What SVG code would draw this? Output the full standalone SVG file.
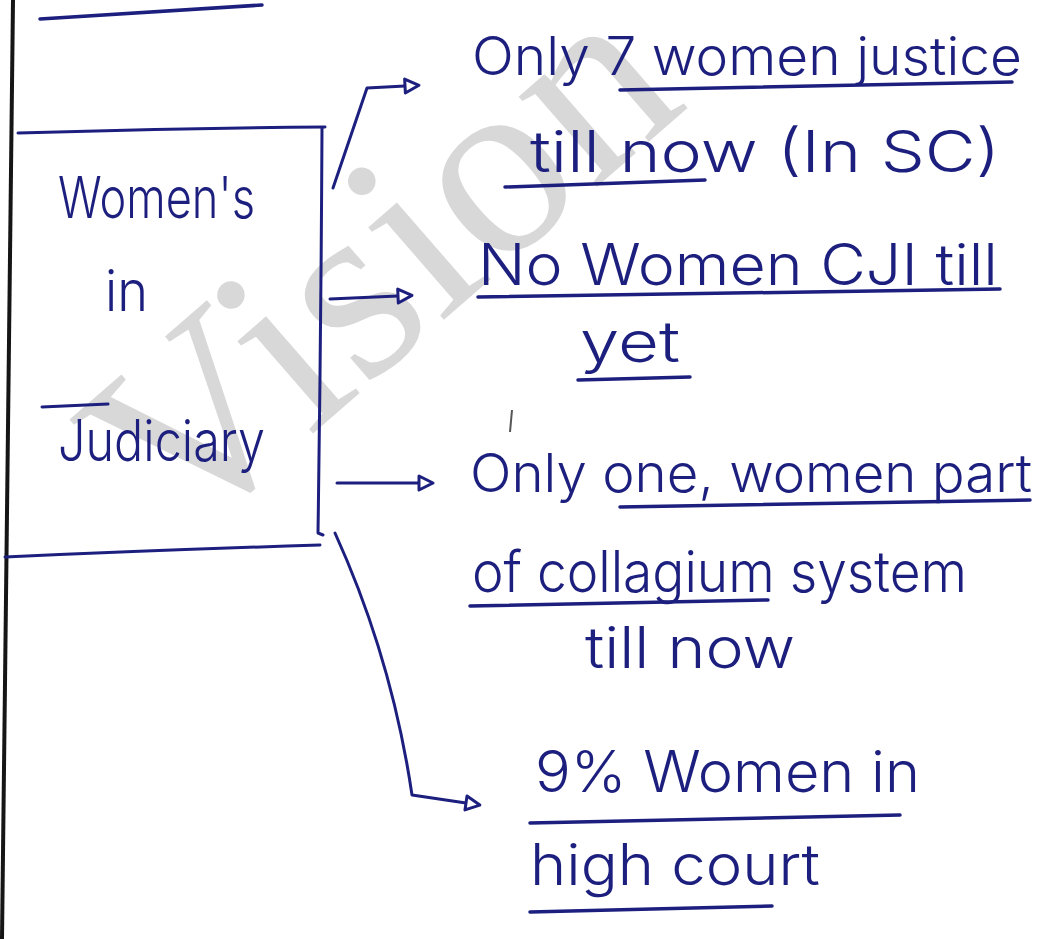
<svg xmlns="http://www.w3.org/2000/svg" width="1043" height="939" viewBox="0 0 1043 939">
  <style>
    .ink { fill: none; stroke: #1c1f7e; stroke-width: 3; stroke-linecap: round; stroke-linejoin: round; }
    .ul { fill: none; stroke: #1c1f7e; stroke-width: 3.5; stroke-linecap: round; }
    .hand { font-family: Inter, "Liberation Sans", Arial, sans-serif; font-weight: 300; font-size: 57px; fill: #1c1f7e; }
    .long { font-size: 53px; }
    .mark { font-family: "Liberation Serif", "Times New Roman", serif; font-size: 260px; fill: #d8d8d8; }
  </style>
  <defs>
    <marker id="head" markerUnits="userSpaceOnUse" markerWidth="20" markerHeight="20" viewBox="-2 -10 20 20" refX="0" refY="0" orient="auto">
      <path d="M0,-7 L14,0 L0,7 Z" fill="#ffffff" stroke="#1c1f7e" stroke-width="3" stroke-linejoin="round"/>
    </marker>
  </defs>

  <rect width="1043" height="939" fill="#ffffff"/>

  <!-- background watermark -->
  <text class="mark" transform="translate(179,550) rotate(-41)">Vision</text>

  <!-- page margin -->
  <path d="M13,0 L2,939" fill="none" stroke="#151515" stroke-width="4"/>

  <!-- heading underline at the top edge -->
  <path class="ul" d="M40,19 Q150,12 262,5"/>

  <!-- central box -->
  <g id="women-in-judiciary">
    <path class="ink" d="M18,133 Q170,128 325,127"/>
    <path class="ink" d="M322,128 Q321,330 318,533 L323,535"/>
    <path class="ink" d="M5,557 Q160,550 320,545"/>
    <path class="ink" d="M42,407 L108,404"/>
    <text class="hand" x="58" y="218" textLength="197" lengthAdjust="spacingAndGlyphs">Women's</text>
    <text class="hand" x="105" y="311" textLength="43" lengthAdjust="spacingAndGlyphs">in</text>
    <text class="hand" x="58" y="461" textLength="207" lengthAdjust="spacingAndGlyphs">Judiciary</text>
  </g>

  <!-- connectors -->
  <g id="connectors">
    <path class="ink" d="M333,188 L367,88 L405,86" marker-end="url(#head)"/>
    <path class="ink" d="M330,299 L398,296" marker-end="url(#head)"/>
    <path class="ink" d="M337,483 L419,483" marker-end="url(#head)"/>
    <path class="ink" d="M335,533 C370,610 398,700 412,795 L466,803" marker-end="url(#head)"/>
  </g>

  <g id="note-supreme-court">
    <text class="hand long" x="472" y="75" textLength="550" lengthAdjust="spacingAndGlyphs">Only 7 women justice</text>
    <path class="ul" d="M620,90 L1012,82"/>
    <text class="hand" x="530" y="172" textLength="470" lengthAdjust="spacingAndGlyphs">till now (In SC)</text>
    <path class="ul" d="M505,187 L705,180"/>
  </g>

  <g id="note-cji">
    <text class="hand" x="478" y="285" textLength="520" lengthAdjust="spacingAndGlyphs">No Women CJI till</text>
    <path class="ul" d="M478,297 L1000,289"/>
    <text class="hand" x="580" y="362" textLength="100" lengthAdjust="spacingAndGlyphs">yet</text>
    <path class="ul" d="M578,380 L690,377"/>
    <path d="M512,410 L510,432" fill="none" stroke="#555" stroke-width="2"/>
  </g>

  <g id="note-collegium">
    <text class="hand long" x="470" y="492" textLength="562" lengthAdjust="spacingAndGlyphs">Only one, women part</text>
    <path class="ul" d="M620,507 L1030,500"/>
    <text class="hand" x="472" y="592" textLength="495" lengthAdjust="spacingAndGlyphs">of collagium system</text>
    <path class="ul" d="M470,606 L768,600"/>
    <text class="hand" x="585" y="668" textLength="210" lengthAdjust="spacingAndGlyphs">till now</text>
  </g>

  <g id="note-high-court">
    <text class="hand" x="535" y="792" textLength="385" lengthAdjust="spacingAndGlyphs">9% Women in</text>
    <path class="ul" d="M530,823 L900,815"/>
    <text class="hand" x="530" y="885" textLength="290" lengthAdjust="spacingAndGlyphs">high court</text>
    <path class="ul" d="M530,912 L772,906"/>
  </g>
</svg>
